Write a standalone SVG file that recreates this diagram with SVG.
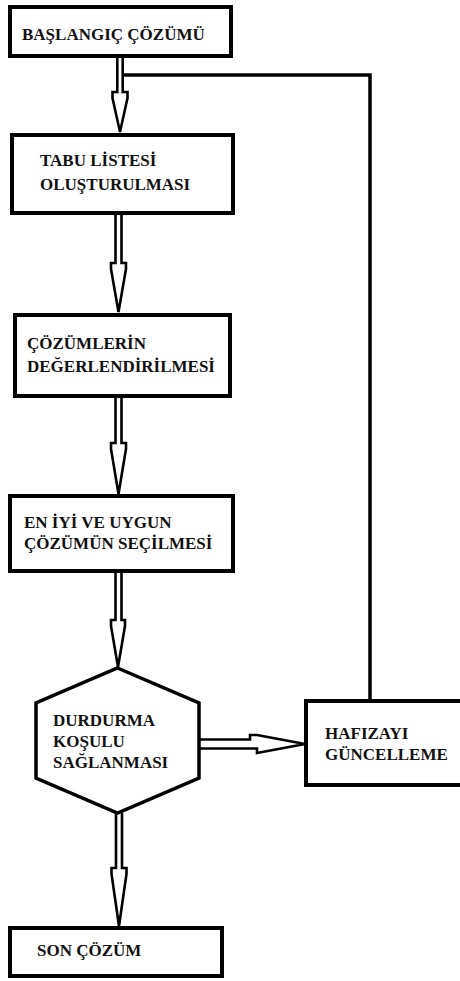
<svg xmlns="http://www.w3.org/2000/svg" width="460" height="981" viewBox="0 0 460 981">
  <style>
    .box { fill: #ffffff; stroke: #000000; stroke-width: 4; }
    .hex { fill: #ffffff; stroke: #000000; stroke-width: 3.5; stroke-linejoin: miter; }
    .lbl { font-family: 'Liberation Serif', 'Times New Roman', 'DejaVu Serif', serif; font-weight: 700; font-size: 17px; fill: #111111; }
    .dbl { fill: #ffffff; stroke: #000000; stroke-width: 2.6; stroke-linejoin: miter; }
    .ret { fill: none; stroke: #000000; stroke-width: 3.5; }
  </style>

  <rect width="460" height="981" fill="#ffffff"/>

  <!-- connectors: hollow double-line arrows and the memory update return line -->
  <g id="connectors">
    <path class="ret" d="M123,75 H370 V700"/>
    <!-- start -> tabu list -->
    <path class="dbl" d="M117.3,57 V92 H112.5 V98 L120,132 L127.5,98 V92 H122.7 V57"/>
    <!-- tabu list -> evaluation -->
    <path class="dbl" d="M115.5,215 V263 H111 V269 L118.5,312 L126,269 V263 H121.5 V215"/>
    <!-- evaluation -> selection -->
    <path class="dbl" d="M115.5,398 V443 H111 V449 L118.5,494 L126,449 V443 H121.5 V398"/>
    <!-- selection -> stop condition -->
    <path class="dbl" d="M115.5,573 V620 H111 V626 L118,667 L125,626 V620 H121.5 V573"/>
    <!-- stop condition -> final solution -->
    <path class="dbl" d="M116,813 V868 H111.5 V874 L119,926 L126.5,874 V868 H122 V813"/>
    <!-- stop condition -> memory update -->
    <path class="dbl" d="M199,739.5 H250 V735 H257 L305,744 L257,753 V748.5 H199"/>
  </g>

  <g id="node-start">
    <rect class="box" x="10" y="7" width="221" height="49"/>
    <text class="lbl" font-family="Liberation Serif" x="22" y="40">BAŞLANGIÇ ÇÖZÜMÜ</text>
  </g>

  <g id="node-tabu">
    <rect class="box" x="12" y="135" width="221" height="78"/>
    <text class="lbl" x="40" y="166">TABU LİSTESİ</text>
    <text class="lbl" x="40" y="190">OLUŞTURULMASI</text>
  </g>

  <g id="node-evaluate">
    <rect class="box" x="15" y="315" width="215" height="81"/>
    <text class="lbl" x="27" y="349">ÇÖZÜMLERİN</text>
    <text class="lbl" x="27" y="372">DEĞERLENDİRİLMESİ</text>
  </g>

  <g id="node-select">
    <rect class="box" x="10" y="496" width="223" height="75"/>
    <text class="lbl" x="24" y="528">EN İYİ VE UYGUN</text>
    <text class="lbl" x="24" y="549">ÇÖZÜMÜN SEÇİLMESİ</text>
  </g>

  <g id="node-stop">
    <polygon class="hex" points="117.5,668 199,703 199,778 117.5,813 36,778 36,703"/>
    <text class="lbl" x="53" y="726">DURDURMA</text>
    <text class="lbl" x="53" y="747">KOŞULU</text>
    <text class="lbl" x="53" y="768">SAĞLANMASI</text>
  </g>

  <g id="node-memory">
    <rect class="box" x="306" y="701" width="170" height="84"/>
    <text class="lbl" x="325" y="739">HAFIZAYI</text>
    <text class="lbl" x="325" y="760">GÜNCELLEME</text>
  </g>

  <g id="node-final">
    <rect class="box" x="10" y="928" width="212" height="48"/>
    <text class="lbl" x="37" y="956">SON ÇÖZÜM</text>
  </g>
</svg>
